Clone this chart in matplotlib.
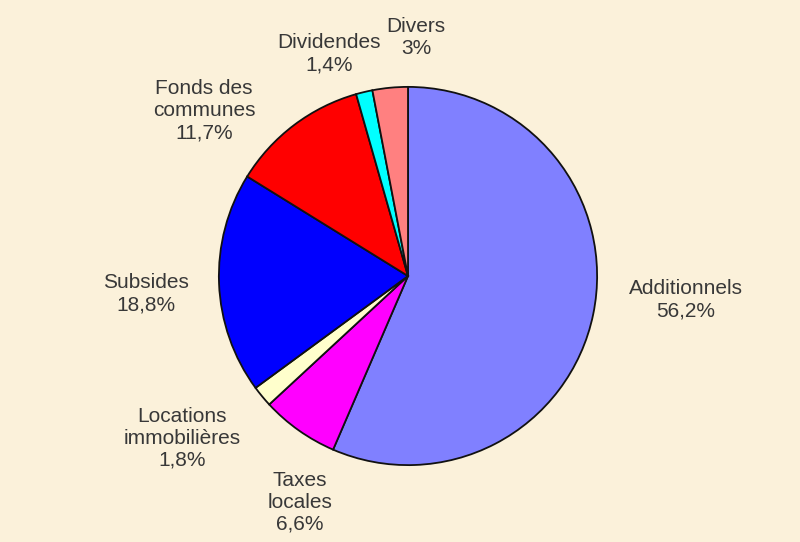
import matplotlib
matplotlib.use('Agg')
import matplotlib.pyplot as plt

plt.rcParams['font.family'] = ['Liberation Sans', 'DejaVu Sans']

# data, clockwise from 12 o'clock
categories = ['Additionnels', 'Taxes\nlocales', 'Locations\nimmobilières', 'Subsides',
              'Fonds des\ncommunes', 'Dividendes', 'Divers']
shares = [56.2, 6.6, 1.8, 18.8, 11.7, 1.4, 3.0]
share_text = ['56,2%', '6,6%', '1,8%', '18,8%', '11,7%', '1,4%', '3%']
colors = ['#8080FF', '#FF00FF', '#FFFFCC', '#0000FF', '#FF0000', '#00FFFF', '#FF8080']

# label centres in pixels (x, y from top)
label_px = [(686, 300), (300, 502), (182, 438), (146, 294), (204, 111), (329, 54), (416, 37)]

W, H = 800, 542
fig = plt.figure(figsize=(W / 100, H / 100), dpi=100)
fig.patch.set_facecolor('#FBF1DA')

cx, cy, r = 408, 276, 191
ax = fig.add_axes([(cx - r) / W, 1 - (cy + r) / H, 2 * r / W, 2 * r / H])
ax.set_facecolor('none')
ax.pie(shares, colors=colors, startangle=90, counterclock=False,
       wedgeprops=dict(edgecolor='#111111', linewidth=1.3), radius=1)
ax.set_xlim(-1.01, 1.01)
ax.set_ylim(-1.01, 1.01)
ax.set_aspect('equal')
ax.axis('off')

for cat, pct, (px, py) in zip(categories, share_text, label_px):
    fig.text(px / W, 1 - py / H, cat + '\n' + pct, ha='center', va='center',
             fontsize=15, color='#383838', linespacing=1.2)

fig.savefig('out.png', dpi=100, facecolor=fig.get_facecolor())
